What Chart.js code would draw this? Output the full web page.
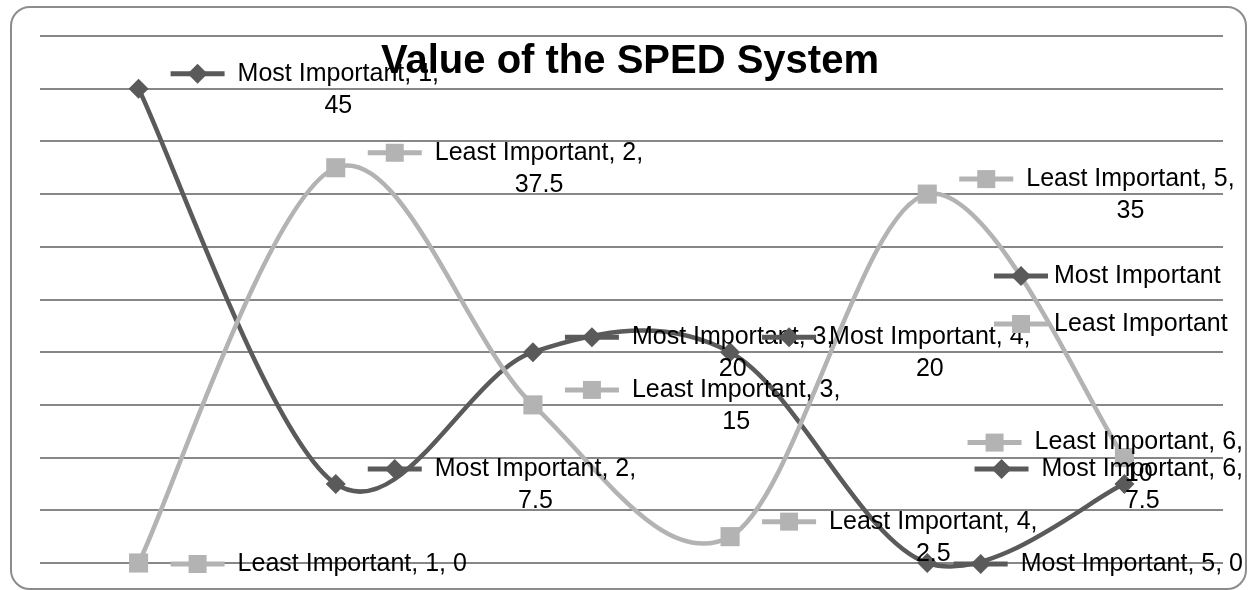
<!DOCTYPE html>
<html>
<head>
<meta charset="utf-8">
<title>Value of the SPED System</title>
<script src="https://cdn.jsdelivr.net/npm/chart.js@4.4.1/dist/chart.umd.min.js"></script>
<style>
  html, body { margin: 0; padding: 0; background: #fff; }
  #frame {
    position: absolute; left: 10px; top: 6px;
    width: 1233px; height: 580px;
    border: 2px solid #8c8c8c; border-radius: 20px;
  }
  #chart { position: absolute; left: 0; top: 0; }
</style>
</head>
<body>
<div id="frame"></div>
<canvas id="chart" width="1248" height="590"></canvas>
<script>
// --- Data ---
const categories = ['1', '2', '3', '4', '5', '6'];
const mostImportant = [45, 7.5, 20, 20, 0, 7.5];
const leastImportant = [0, 37.5, 15, 2.5, 35, 10];
const seriesNames = ['Most Important', 'Least Important'];
const chartTitle = 'Value of the SPED System';
const yMin = 0, yMax = 50, yStep = 5;

const MOST = '#5a5a5a';
const LEAST = '#b3b3b3';
const LABEL_FONT = '25px "Liberation Sans", Arial, sans-serif';

// Excel style smoothing (Catmull-Rom) instead of Chart.js distance weighted tension
const smoothPlugin = {
    id: 'excelSmooth',
    beforeDatasetsDraw(chart) {
        chart.data.datasets.forEach((ds, di) => {
            const meta = chart.getDatasetMeta(di);
            const line = meta.dataset;
            if (line && line.updateControlPoints) line.updateControlPoints(chart.chartArea, 'x');
            const pts = meta.data;
            pts.forEach((p, i) => {
                const prev = pts[i - 1] || p;
                const next = pts[i + 1] || p;
                const dx = (next.x - prev.x) / 6;
                const dy = (next.y - prev.y) / 6;
                p.cp1x = p.x - dx; p.cp1y = p.y - dy;
                p.cp2x = p.x + dx; p.cp2y = p.y + dy;
            });
            if (line) line._path = undefined;
        });
    }
};

// draws the little legend key (line + marker) used by Excel-style labels
function drawKey(ctx, ds, x, y) {
    ctx.save();
    ctx.strokeStyle = ds.borderColor;
    ctx.lineWidth = 5;
    ctx.beginPath();
    ctx.moveTo(x, y);
    ctx.lineTo(x + 54, y);
    ctx.stroke();
    ctx.fillStyle = ds.borderColor;
    const cx = x + 27;
    ctx.beginPath();
    if (ds.pointStyle === 'rectRot') {
        ctx.moveTo(cx, y - 10); ctx.lineTo(cx + 10, y); ctx.lineTo(cx, y + 10); ctx.lineTo(cx - 10, y);
        ctx.closePath();
    } else {
        ctx.rect(cx - 9, y - 9, 18, 18);
    }
    ctx.fill();
    ctx.restore();
}

const labelPlugin = {
    id: 'excelLabels',
    afterDatasetsDraw(chart) {
        const ctx = chart.ctx;
        ctx.save();
        ctx.font = LABEL_FONT;
        ctx.textBaseline = 'middle';
        ctx.fillStyle = '#000';

        // data labels, placed to the right of each point and pulled back inside the frame
        chart.data.datasets.forEach((ds, di) => {
            const meta = chart.getDatasetMeta(di);
            meta.data.forEach((pt, i) => {
                const full = `${ds.label}, ${categories[i]}, ${ds.data[i]}`;
                let lines = [full];
                if (ctx.measureText(full).width > 232) {
                    lines = [`${ds.label}, ${categories[i]},`, String(ds.data[i])];
                }
                const w = ctx.measureText(lines[0]).width;
                const left = Math.min(pt.x + 99, 1243 - w);
                const cy = lines.length > 1 ? pt.y - 15 : pt.y + 1;
                drawKey(ctx, ds, left - 67, cy);
                ctx.fillStyle = '#000';
                ctx.textAlign = 'left';
                ctx.fillText(lines[0], left, cy);
                if (lines[1]) {
                    ctx.textAlign = 'center';
                    ctx.fillText(lines[1], left + w / 2, cy + 32);
                }
            });
        });

        // legend, sitting inside the plot on the right
        const legendY = [276, 324];
        chart.data.datasets.forEach((ds, di) => {
            drawKey(ctx, ds, 994, legendY[di]);
            ctx.fillStyle = '#000';
            ctx.textAlign = 'left';
            ctx.fillText(ds.label, 1054, legendY[di]);
        });

        // title drawn last, over everything
        ctx.font = 'bold 40px "Liberation Sans", Arial, sans-serif';
        ctx.textAlign = 'center';
        ctx.textBaseline = 'alphabetic';
        ctx.fillText(chartTitle, 630, 73);
        ctx.restore();
    }
};

new Chart(document.getElementById('chart'), {
    type: 'line',
    data: {
        labels: categories,
        datasets: [
            {
                label: seriesNames[0],
                data: mostImportant,
                borderColor: MOST,
                backgroundColor: MOST,
                pointBackgroundColor: MOST,
                pointBorderColor: MOST,
                pointStyle: 'rectRot',
                pointRadius: 10,
                pointBorderWidth: 0,
                borderWidth: 4.5,
                tension: 0.4,
                clip: false,
                order: 1
            },
            {
                label: seriesNames[1],
                data: leastImportant,
                borderColor: LEAST,
                backgroundColor: LEAST,
                pointBackgroundColor: LEAST,
                pointBorderColor: LEAST,
                pointStyle: 'rect',
                pointRadius: 13.5,
                pointBorderWidth: 0,
                borderWidth: 4.5,
                tension: 0.4,
                clip: false,
                order: 0
            }
        ]
    },
    options: {
        responsive: false,
        animation: false,
        layout: { padding: { left: 40, right: 25, top: 36, bottom: 27 } },
        elements: { line: { capBezierPoints: false } },
        plugins: {
            legend: { display: false },
            title: { display: false },
            tooltip: { enabled: false }
        },
        scales: {
            x: { display: false, offset: true },
            y: {
                min: yMin,
                max: yMax,
                ticks: { stepSize: yStep, display: false },
                grid: { color: '#878787', lineWidth: 2, drawTicks: false },
                border: { display: false }
            }
        }
    },
    plugins: [smoothPlugin, labelPlugin]
});
</script>
</body>
</html>
